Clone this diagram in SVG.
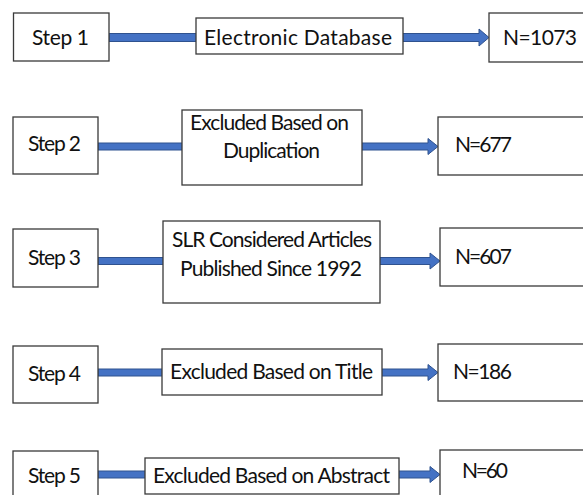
<svg xmlns="http://www.w3.org/2000/svg" width="583" height="495" viewBox="0 0 583 495">
  <style>
    .box { fill: #ffffff; stroke: #3a3a3a; stroke-width: 1.3; }
    .t { font-family: Lato, "Open Sans", "Liberation Sans", sans-serif; font-size: 21px; fill: #111111; text-anchor: middle; }
    .arr { fill: #4472C4; stroke: #2F528F; stroke-width: 1; }
  </style>
  <rect width="583" height="495" fill="#ffffff"/>
  <g id="connectors">
    <polygon class="arr" points="109,33.5 479,33.5 479,29 489,37.5 479,46 479,41.5 109,41.5"/>
    <polygon class="arr" points="98,143 428,143 428,138.5 438,146.5 428,154.5 428,150 98,150"/>
    <polygon class="arr" points="98,257.5 430,257.5 430,253 440,261 430,269 430,264.5 98,264.5"/>
    <polygon class="arr" points="98,369 428,369 428,364.5 438,372.5 428,380.5 428,376 98,376"/>
    <polygon class="arr" points="98,471 430,471 430,466.5 440,474.5 430,482.5 430,478 98,478"/>
  </g>
  <g id="step1"><rect class="box" x="13.5" y="13" width="95.5" height="48"/><text class="t" x="60.5" y="45" textLength="57">Step 1</text></g>
  <g id="mid1"><rect class="box" x="196" y="18" width="207" height="36"/><text class="t" x="298" y="44.5" textLength="188">Electronic Database</text></g>
  <g id="n1"><rect class="box" x="489" y="13" width="100" height="49"/><text class="t" x="540" y="45" textLength="74">N=1073</text></g>

  <g id="step2"><rect class="box" x="13" y="117" width="85" height="57"/><text class="t" x="54.5" y="151" textLength="53">Step 2</text></g>
  <g id="mid2"><rect class="box" x="182" y="110" width="180" height="75"/><text class="t" x="269.5" y="130" textLength="159">Excluded Based on</text><text class="t" x="271.5" y="158" textLength="97">Duplication</text></g>
  <g id="n2"><rect class="box" x="438" y="117" width="150" height="58"/><text class="t" x="483.5" y="152" textLength="57">N=677</text></g>

  <g id="step3"><rect class="box" x="13" y="229" width="85" height="58"/><text class="t" x="54.5" y="265" textLength="53">Step 3</text></g>
  <g id="mid3"><rect class="box" x="163" y="221" width="217" height="82"/><text class="t" x="272" y="247" textLength="200">SLR Considered Articles</text><text class="t" x="271" y="276" textLength="182">Published Since 1992</text></g>
  <g id="n3"><rect class="box" x="440" y="228" width="150" height="58"/><text class="t" x="483.5" y="264" textLength="57">N=607</text></g>

  <g id="step4"><rect class="box" x="13" y="346" width="85" height="57"/><text class="t" x="54.5" y="381" textLength="53">Step 4</text></g>
  <g id="mid4"><rect class="box" x="162" y="349" width="220" height="46"/><text class="t" x="271.5" y="379" textLength="203">Excluded Based on Title</text></g>
  <g id="n4"><rect class="box" x="438" y="344" width="150" height="57"/><text class="t" x="482.5" y="379" textLength="59">N=186</text></g>

  <g id="step5"><rect class="box" x="13" y="451" width="85" height="60"/><text class="t" x="54.5" y="483" textLength="53">Step 5</text></g>
  <g id="mid5"><rect class="box" x="145" y="458" width="254" height="36"/><text class="t" x="271.5" y="483" textLength="237">Excluded Based on Abstract</text></g>
  <g id="n5"><rect class="box" x="440" y="450" width="150" height="60"/><text class="t" x="485" y="478" textLength="46">N=60</text></g>
</svg>
